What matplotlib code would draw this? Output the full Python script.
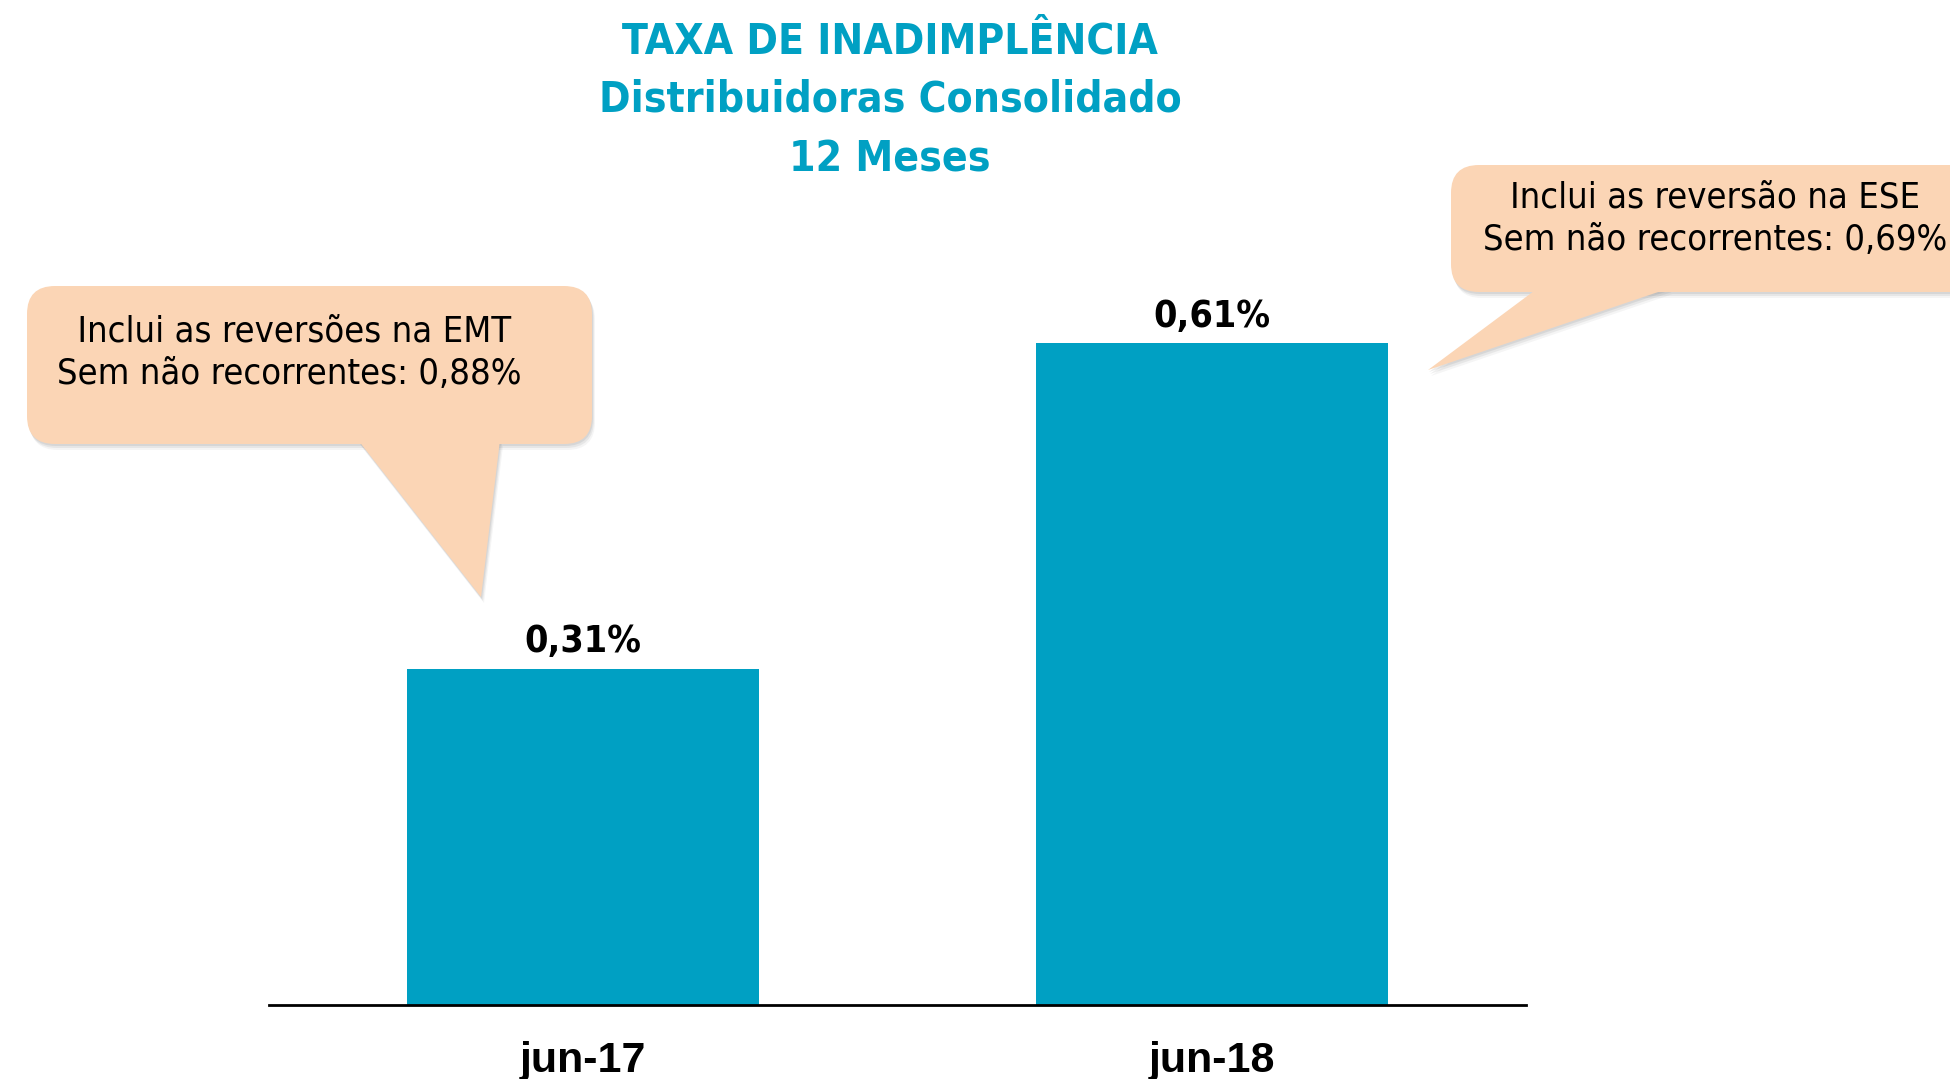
import matplotlib.pyplot as plt
from matplotlib.patches import FancyBboxPatch, Polygon

# data
periods = ["jun-17", "jun-18"]
rates = [0.31, 0.61]
rate_labels = ["0,31%", "0,61%"]
title_lines = ["TAXA DE INADIMPLÊNCIA", "Distribuidoras Consolidado", "12 Meses"]
note_left = [" Inclui as reversões na EMT", "Sem não recorrentes: 0,88%"]
note_right = ["Inclui as reversão na ESE", "Sem não recorrentes: 0,69%"]

TEAL = "#00A0C3"
PEACH = "#FBD5B5"
W, H = 1950, 1079

fig = plt.figure(figsize=(19.5, 10.79), dpi=100)
fig.patch.set_facecolor("white")

ax = fig.add_axes([269 / W, 74 / H, (1526 - 269) / W, 976.5 / H])
x = list(range(len(periods)))
ax.bar(x, rates, width=0.56, color=TEAL, zorder=2)
ax.set_xlim(-0.5, 1.5)
ax.set_ylim(0, 0.9)
for s in ["top", "right", "left"]:
  ax.spines[s].set_visible(False)
ax.spines["bottom"].set_linewidth(2)
ax.set_yticks([])
ax.set_xticks(x)
ax.set_xticklabels(periods, fontsize=31, fontweight="bold",
                   family=["Liberation Sans", "DejaVu Sans"])
ax.tick_params(axis="x", length=0, pad=26)

for i, (v, lab) in enumerate(zip(rates, rate_labels)):
  ax.annotate(lab, (i, v), xytext=(0, 6), textcoords="offset points",
              ha="center", va="bottom", fontsize=27, fontweight="bold",
              fontstretch="condensed", color="black")

# titles
for k, (t, yy) in enumerate(zip(title_lines, [41, 100, 160])):
  fig.text(890 / W, 1 - yy / H, t, ha="center", va="center",
           fontsize=30.5, fontweight="bold", fontstretch="condensed", color=TEAL)

# overlay in pixel coordinates for the callouts
ov = fig.add_axes([0, 0, 1, 1], zorder=5)
ov.set_xlim(0, W)
ov.set_ylim(H, 0)
ov.axis("off")
ov.patch.set_alpha(0)

def callout(x0, y0, x1, y1, tail, lines, cx, ys):
  # soft shadow
  for dx, a in [(6, 0.08), (4, 0.12), (2, 0.15)]:
    ov.add_patch(FancyBboxPatch((x0 + dx / 2, y0 + dx), x1 - x0, y1 - y0,
                 boxstyle="round,pad=0,rounding_size=28", fc="#808080", ec="none", alpha=a))
    ov.add_patch(Polygon([(px + dx / 2, py + dx) for px, py in tail], closed=True,
                 fc="#808080", ec="none", alpha=a))
  ov.add_patch(FancyBboxPatch((x0, y0), x1 - x0, y1 - y0,
               boxstyle="round,pad=0,rounding_size=28", fc=PEACH, ec="none"))
  ov.add_patch(Polygon(tail, closed=True, fc=PEACH, ec="none"))
  for t, yy in zip(lines, ys):
    ov.text(cx, yy, t, ha="center", va="center", fontsize=26,
            fontstretch="condensed", color="black")

callout(27, 286, 592, 444, [(358, 440), (500, 440), (481, 597)], note_left, 289, [332, 374])
callout(1451, 165, 1995, 292, [(1538, 288), (1670, 288), (1428, 370)], note_right, 1715, [197, 240])

fig.savefig("out.png", dpi=100)
